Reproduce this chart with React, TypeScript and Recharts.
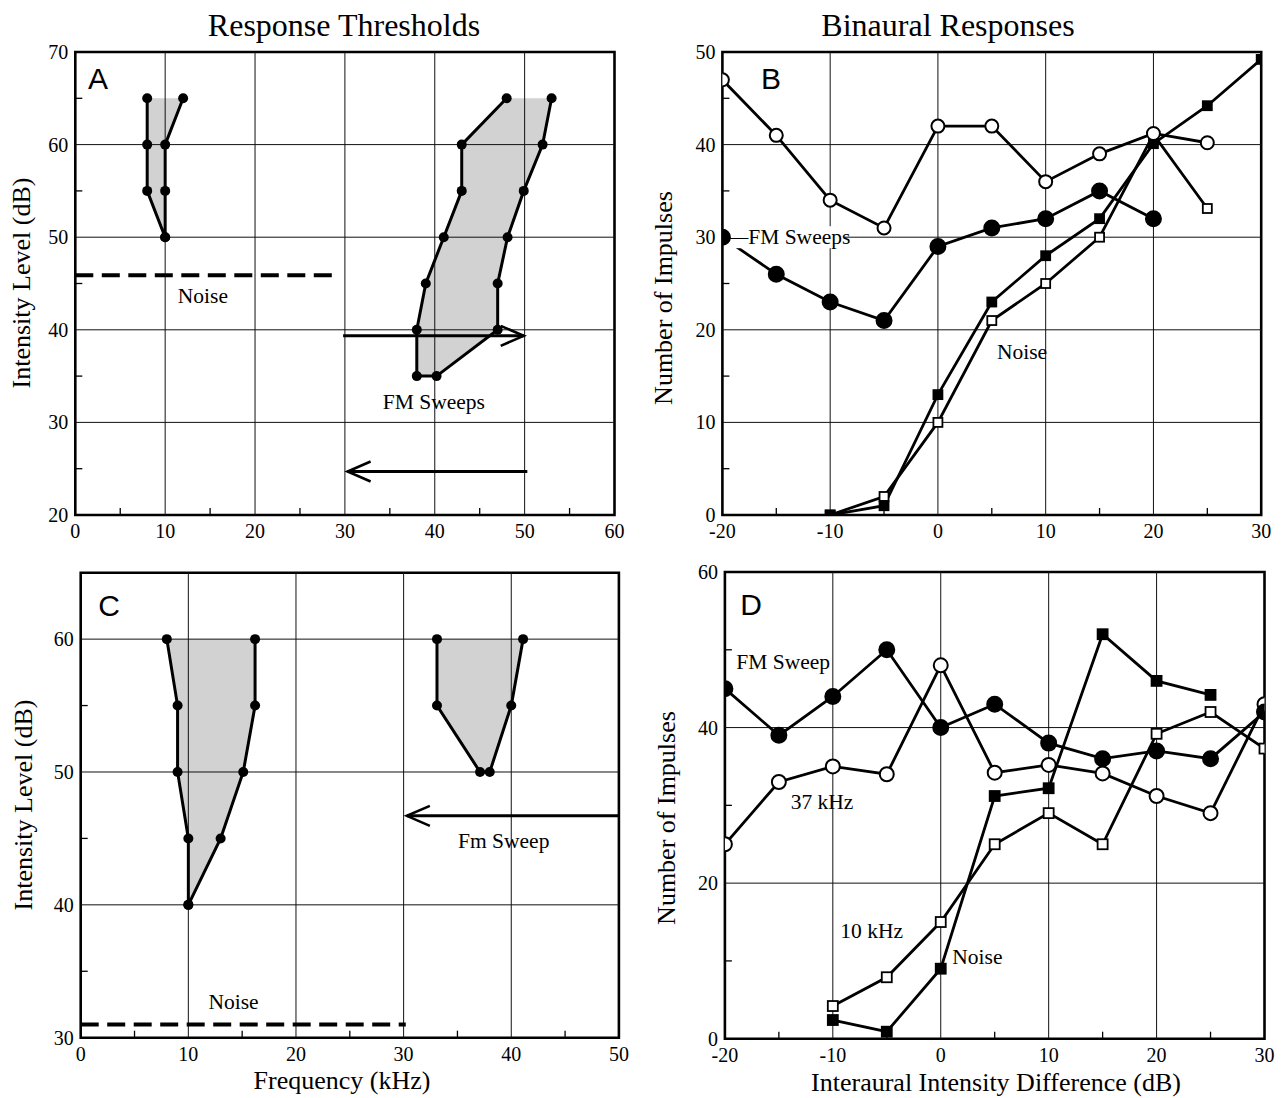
import React from 'react';
import {
  ComposedChart,
  Line,
  Area,
  XAxis,
  YAxis,
  ReferenceLine,
  ReferenceArea,
  ReferenceDot,
} from 'recharts';

const SERIF = '"Liberation Serif", "Times New Roman", Times, serif';
const SANS = '"Liberation Sans", Arial, Helvetica, sans-serif';

// ---------------- Panel A : response thresholds ----------------
const aLevels1 = [50, 55, 60, 65];
const aLow1 = [10, 8, 8, 8];
const aHigh1 = [10, 10, 10, 12];
const aLevels2 = [35, 40, 45, 50, 55, 60, 65];
const aLow2 = [38, 38, 39, 41, 43, 43, 48];
const aHigh2 = [40.2, 47, 47, 48.1, 49.9, 52, 53];
const aNoiseLevel = 45.9;
const aNoiseSpan = [0, 28.7];
const aSweepLevels = [39.35, 24.7];
const aSweepStart = [29.8, 50.3];
const aSweepEnd = [49.9, 30.3];
const aFreqTicks = [0, 10, 20, 30, 40, 50, 60];
const aLevelTicks = [20, 30, 40, 50, 60, 70];

// ---------------- Panel B : binaural responses ----------------
const bIid = [-20, -15, -10, -5, 0, 5, 10, 15, 20, 25, 30];
const bFmOpen = [47, 41, 34, 31, 42, 42, 36, 39, 41.2, 40.2, null];
const bFmFilled = [30, 26, 23, 21, 29, 31, 32, 35, 32, null, null];
const bNoiseFilled = [null, null, 0, 1, 13, 23, 28, 32, 40.1, 44.2, 49.2];
const bNoiseOpen = [null, null, 0, 2, 10, 21, 25, 30, 41.1, 33.1, null];
const bIidTicks = [-20, -10, 0, 10, 20, 30];
const bCountTicks = [0, 10, 20, 30, 40, 50];

// ---------------- Panel C : response thresholds ----------------
const cLevels1 = [40, 45, 50, 55, 60];
const cLow1 = [10, 10, 9, 9, 8];
const cHigh1 = [10, 13, 15.1, 16.2, 16.2];
const cLevels2 = [50, 55, 60];
const cLow2 = [37.1, 33.1, 33.1];
const cHigh2 = [38, 40, 41.1];
const cNoiseLevel = 31;
const cNoiseSpan = [0, 30.2];
const cSweepLevels = [46.7];
const cSweepStart = [50];
const cSweepEnd = [30.3];
const cFreqTicks = [0, 10, 20, 30, 40, 50];
const cLevelTicks = [30, 40, 50, 60];

// ---------------- Panel D : binaural responses ----------------
const dIid = [-20, -15, -10, -5, 0, 5, 10, 15, 20, 25, 30];
const dFmFilled = [45, 39, 44, 50, 40, 43, 38, 36, 37, 36, 42];
const d37Open = [25, 33, 35, 34, 48, 34.2, 35.2, 34.1, 31.2, 29, 43];
const dNoiseFilled = [null, null, 2.4, 0.9, 9, 31.2, 32.2, 52, 46, 44.2, null];
const d10Open = [null, null, 4.2, 7.9, 15, 25, 29, 25, 39.2, 42, 37.3];
const dIidTicks = [-20, -10, 0, 10, 20, 30];
const dCountTicks = [0, 20, 40, 60];

// ---------------- helpers ----------------
const steps = (a: number, b: number, s: number) => {
  const r: number[] = [];
  for (let v = a; v <= b + 1e-9; v += s) r.push(Math.round(v * 100) / 100);
  return r;
};

const bandData = (levels: number[], low: number[], high: number[]) =>
  levels.map((l, i) => ({ lvl: l, band: [low[i], high[i]] }));

const outlineData = (levels: number[], low: number[], high: number[]) => {
  const left = levels.map((l, i) => ({ lvl: l, f: low[i] })).reverse();
  const right = levels.map((l, i) => ({ lvl: l, f: high[i] }));
  return [...left, ...right];
};

const TICK_FONT = 20;

const bottomTick = (labels: number[]) => (p: any) => {
  const v = p.payload.value;
  const major = labels.includes(v);
  return (
    <g key={`xt-${v}`}>
      {!major && (
        <line x1={p.x} y1={p.y} x2={p.x} y2={p.y - 7} stroke="#000" strokeWidth={1.3} />
      )}
      {major && (
        <text
          x={p.x}
          y={p.y + 16}
          textAnchor="middle"
          dominantBaseline="central"
          fontFamily={SERIF}
          style={{ fontFamily: SERIF }}
          fontSize={TICK_FONT}
          fill="#000"
        >
          {v}
        </text>
      )}
    </g>
  );
};

const leftTick = (labels: number[]) => (p: any) => {
  const v = p.payload.value;
  const major = labels.includes(v);
  return (
    <g key={`yt-${v}`}>
      {!major && (
        <line x1={p.x} y1={p.y} x2={p.x + 7} y2={p.y} stroke="#000" strokeWidth={1.3} />
      )}
      {major && (
        <text
          x={p.x - 7}
          y={p.y}
          textAnchor="end"
          dominantBaseline="central"
          fontFamily={SERIF}
          style={{ fontFamily: SERIF }}
          fontSize={TICK_FONT}
          fill="#000"
        >
          {v}
        </text>
      )}
    </g>
  );
};

const circleDot = (r: number, filled: boolean) => (p: any) => {
  if (p.cx == null || p.cy == null || p.value == null)
    return <g key={`c-${p.index}`} />;
  return (
    <circle
      key={`c-${p.index}`}
      cx={p.cx}
      cy={p.cy}
      r={r}
      fill={filled ? '#000' : '#fff'}
      stroke="#000"
      strokeWidth={2}
    />
  );
};

const squareDot = (s: number, filled: boolean) => (p: any) => {
  if (p.cx == null || p.cy == null || p.value == null)
    return <g key={`s-${p.index}`} />;
  return (
    <rect
      key={`s-${p.index}`}
      x={p.cx - s / 2}
      y={p.cy - s / 2}
      width={s}
      height={s}
      fill={filled ? '#000' : '#fff'}
      stroke="#000"
      strokeWidth={1.8}
    />
  );
};

const arrowDot = (dir: number) => (p: any) => {
  if (p.index !== 1) return <g key={`a-${p.index}`} />;
  const { cx, cy } = p;
  return (
    <path
      key={`a-${p.index}`}
      d={`M${cx - dir * 23},${cy - 10} L${cx},${cy} L${cx - dir * 23},${cy + 10}`}
      fill="none"
      stroke="#000"
      strokeWidth={2.6}
    />
  );
};

const note =
  (text: string, anchor: 'start' | 'middle' = 'middle', bgWidth = 0) =>
  (p: any) => (
    <g>
      {bgWidth > 0 && (
        <rect x={p.cx} y={p.cy - 11} width={bgWidth} height={22} fill="#fff" />
      )}
      <text
        x={p.cx}
        y={p.cy}
        textAnchor={anchor}
        dominantBaseline="central"
        fontFamily={SERIF}
        style={{ fontFamily: SERIF }}
        fontSize={21.5}
        fill="#000"
      >
        {text}
      </text>
    </g>
  );

const GRID = { stroke: '#111', strokeWidth: 1 };
const FILL = '#d2d2d2';

// --------------- threshold panel (A and C) ---------------
function ThresholdChart(props: {
  width: number;
  height: number;
  margin: { top: number; right: number; bottom: number; left: number };
  xDomain: [number, number];
  yDomain: [number, number];
  xLabels: number[];
  yLabels: number[];
  regions: { levels: number[]; low: number[]; high: number[] }[];
  noiseLevel: number;
  noiseSpan: number[];
  sweepLevels: number[];
  sweepStart: number[];
  sweepEnd: number[];
  notes: { x: number; y: number; text: string }[];
}) {
  const { xDomain, yDomain } = props;
  return (
    <ComposedChart
      layout="vertical"
      width={props.width}
      height={props.height}
      margin={props.margin}
    >
      <XAxis
        type="number"
        domain={xDomain}
        ticks={steps(xDomain[0], xDomain[1], 5)}
        interval={0}
        tickSize={0}
        tickMargin={0}
        tickLine={false}
        axisLine={false}
        height={30}
        tick={bottomTick(props.xLabels)}
        allowDataOverflow
      />
      <YAxis
        type="number"
        dataKey="lvl"
        domain={yDomain}
        reversed
        ticks={steps(yDomain[0], yDomain[1], 5)}
        interval={0}
        tickSize={0}
        tickMargin={0}
        tickLine={false}
        axisLine={false}
        width={60}
        tick={leftTick(props.yLabels)}
        allowDataOverflow
      />
      {props.xLabels
        .filter((v) => v > xDomain[0] && v < xDomain[1])
        .map((v) => (
          <ReferenceLine key={`gx-${v}`} x={v} {...GRID} />
        ))}
      {props.yLabels
        .filter((v) => v > yDomain[0] && v < yDomain[1])
        .map((v) => (
          <ReferenceLine key={`gy-${v}`} y={v} {...GRID} />
        ))}
      {props.regions.map((r, i) => (
        <Area
          key={`band-${i}`}
          data={bandData(r.levels, r.low, r.high)}
          dataKey="band"
          type="linear"
          fill={FILL}
          fillOpacity={1}
          stroke="none"
          dot={false}
          activeDot={false}
          isAnimationActive={false}
        />
      ))}
      {props.regions.map((r, i) => (
        <Line
          key={`out-${i}`}
          data={outlineData(r.levels, r.low, r.high)}
          dataKey="f"
          type="linear"
          stroke="#000"
          strokeWidth={3}
          dot={{ r: 5, fill: '#000', stroke: '#000', strokeWidth: 0 }}
          activeDot={false}
          isAnimationActive={false}
        />
      ))}
      <Line
        data={[
          { lvl: props.noiseLevel, f: props.noiseSpan[0] },
          { lvl: props.noiseLevel, f: props.noiseSpan[1] },
        ]}
        dataKey="f"
        type="linear"
        stroke="#000"
        strokeWidth={4}
        strokeDasharray="18 8.5"
        dot={false}
        activeDot={false}
        isAnimationActive={false}
      />
      {props.sweepLevels.map((lvl, i) => (
        <Line
          key={`sweep-${i}`}
          data={[
            { lvl, f: props.sweepStart[i] },
            { lvl, f: props.sweepEnd[i] },
          ]}
          dataKey="f"
          type="linear"
          stroke="#000"
          strokeWidth={3}
          dot={arrowDot(Math.sign(props.sweepEnd[i] - props.sweepStart[i]))}
          activeDot={false}
          isAnimationActive={false}
        />
      ))}
      <ReferenceArea
        x1={xDomain[0]}
        x2={xDomain[1]}
        y1={yDomain[0]}
        y2={yDomain[1]}
        fill="none"
        stroke="#000"
        strokeWidth={2.6}
        ifOverflow="visible"
      />
      {props.notes.map((n, i) => (
        <ReferenceDot
          key={`note-${i}`}
          x={n.x}
          y={n.y}
          r={0}
          ifOverflow="visible"
          shape={note(n.text)}
        />
      ))}
    </ComposedChart>
  );
}

const TEXT_BASE: React.CSSProperties = {
  position: 'absolute',
  whiteSpace: 'nowrap',
  fontFamily: SERIF,
  color: '#000',
  lineHeight: 1,
};

function Txt(props: {
  x: number;
  y: number;
  size: number;
  rotate?: boolean;
  sans?: boolean;
  children: React.ReactNode;
}) {
  return (
    <div
      style={{
        ...TEXT_BASE,
        left: props.x,
        top: props.y,
        fontSize: props.size,
        fontFamily: props.sans ? SANS : SERIF,
        transform: `translate(-50%, -50%)${props.rotate ? ' rotate(-90deg)' : ''}`,
      }}
    >
      {props.children}
    </div>
  );
}

export default function App() {
  const bRows = bIid.map((x, i) => ({
    x,
    fmOpen: bFmOpen[i],
    fmFilled: bFmFilled[i],
    noiseFilled: bNoiseFilled[i],
    noiseOpen: bNoiseOpen[i],
  }));
  const dRows = dIid.map((x, i) => ({
    x,
    fmFilled: dFmFilled[i],
    k37: d37Open[i],
    noiseFilled: dNoiseFilled[i],
    k10: d10Open[i],
  }));

  const lineProps = {
    type: 'linear' as const,
    stroke: '#000',
    strokeWidth: 2.8,
    activeDot: false,
    isAnimationActive: false,
  };

  return (
    <div
      style={{
        position: 'absolute',
        left: 0,
        top: 0,
        width: 1281,
        height: 1098,
        background: '#fff',
        overflow: 'hidden',
      }}
    >
      {/* Panel A */}
      <div style={{ position: 'absolute', left: 0, top: 0 }}>
        <ThresholdChart
          width={640}
          height={560}
          margin={{ top: 52, right: 25.5, bottom: 15, left: 15.3 }}
          xDomain={[0, 60]}
          yDomain={[20, 70]}
          xLabels={aFreqTicks}
          yLabels={aLevelTicks}
          regions={[
            { levels: aLevels1, low: aLow1, high: aHigh1 },
            { levels: aLevels2, low: aLow2, high: aHigh2 },
          ]}
          noiseLevel={aNoiseLevel}
          noiseSpan={aNoiseSpan}
          sweepLevels={aSweepLevels}
          sweepStart={aSweepStart}
          sweepEnd={aSweepEnd}
          notes={[
            { x: 14.2, y: 43.6, text: 'Noise' },
            { x: 39.9, y: 32.2, text: 'FM Sweeps' },
          ]}
        />
      </div>

      {/* Panel B */}
      <div style={{ position: 'absolute', left: 640, top: 0 }}>
        <ComposedChart
          width={641}
          height={560}
          data={bRows}
          margin={{ top: 52, right: 19.8, bottom: 15, left: 22.4 }}
        >
          <XAxis
            type="number"
            dataKey="x"
            domain={[-20, 30]}
            ticks={steps(-20, 30, 5)}
            interval={0}
            tickSize={0}
            tickMargin={0}
            tickLine={false}
            axisLine={false}
            height={30}
            tick={bottomTick(bIidTicks)}
            allowDataOverflow
          />
          <YAxis
            type="number"
            domain={[0, 50]}
            ticks={steps(0, 50, 5)}
            interval={0}
            tickSize={0}
            tickMargin={0}
            tickLine={false}
            axisLine={false}
            width={60}
            tick={leftTick(bCountTicks)}
            allowDataOverflow
          />
          {bIidTicks.slice(1, -1).map((v) => (
            <ReferenceLine key={`bgx-${v}`} x={v} {...GRID} />
          ))}
          {bCountTicks.slice(1, -1).map((v) => (
            <ReferenceLine key={`bgy-${v}`} y={v} {...GRID} />
          ))}
          <ReferenceDot
            x={-19.6}
            y={30}
            r={0}
            ifOverflow="visible"
            shape={note('\u2014FM Sweeps', 'start', 118)}
          />
          <Line dataKey="noiseOpen" {...lineProps} dot={squareDot(9, false)} />
          <Line dataKey="noiseFilled" {...lineProps} dot={squareDot(9, true)} />
          <Line dataKey="fmFilled" {...lineProps} dot={circleDot(7.5, true)} />
          <Line dataKey="fmOpen" {...lineProps} dot={circleDot(6.5, false)} />
          <ReferenceArea
            x1={-20}
            x2={30}
            y1={0}
            y2={50}
            fill="none"
            stroke="#000"
            strokeWidth={2.6}
            ifOverflow="visible"
          />
          <ReferenceDot x={7.8} y={17.6} r={0} ifOverflow="visible" shape={note('Noise')} />
        </ComposedChart>
      </div>

      {/* Panel C */}
      <div style={{ position: 'absolute', left: 0, top: 545 }}>
        <ThresholdChart
          width={640}
          height={553}
          margin={{ top: 27.7, right: 21.1, bottom: 30.3, left: 20.7 }}
          xDomain={[0, 50]}
          yDomain={[30, 65]}
          xLabels={cFreqTicks}
          yLabels={cLevelTicks}
          regions={[
            { levels: cLevels1, low: cLow1, high: cHigh1 },
            { levels: cLevels2, low: cLow2, high: cHigh2 },
          ]}
          noiseLevel={cNoiseLevel}
          noiseSpan={cNoiseSpan}
          sweepLevels={cSweepLevels}
          sweepStart={cSweepStart}
          sweepEnd={cSweepEnd}
          notes={[
            { x: 14.2, y: 32.7, text: 'Noise' },
            { x: 39.3, y: 44.8, text: 'Fm Sweep' },
          ]}
        />
      </div>

      {/* Panel D */}
      <div style={{ position: 'absolute', left: 640, top: 545 }}>
        <ComposedChart
          width={641}
          height={553}
          data={dRows}
          margin={{ top: 27, right: 16.5, bottom: 29.3, left: 24.9 }}
        >
          <XAxis
            type="number"
            dataKey="x"
            domain={[-20, 30]}
            ticks={steps(-20, 30, 5)}
            interval={0}
            tickSize={0}
            tickMargin={0}
            tickLine={false}
            axisLine={false}
            height={30}
            tick={bottomTick(dIidTicks)}
            allowDataOverflow
          />
          <YAxis
            type="number"
            domain={[0, 60]}
            ticks={steps(0, 60, 10)}
            interval={0}
            tickSize={0}
            tickMargin={0}
            tickLine={false}
            axisLine={false}
            width={60}
            tick={leftTick(dCountTicks)}
            allowDataOverflow
          />
          {dIidTicks.slice(1, -1).map((v) => (
            <ReferenceLine key={`dgx-${v}`} x={v} {...GRID} />
          ))}
          {dCountTicks.slice(1, -1).map((v) => (
            <ReferenceLine key={`dgy-${v}`} y={v} {...GRID} />
          ))}
          <Line dataKey="k10" {...lineProps} dot={squareDot(10, false)} />
          <Line dataKey="noiseFilled" {...lineProps} dot={squareDot(10, true)} />
          <Line dataKey="k37" {...lineProps} dot={circleDot(7, false)} />
          <Line dataKey="fmFilled" {...lineProps} dot={circleDot(7.5, true)} />
          <ReferenceArea
            x1={-20}
            x2={30}
            y1={0}
            y2={60}
            fill="none"
            stroke="#000"
            strokeWidth={2.6}
            ifOverflow="visible"
          />
          <ReferenceDot x={-14.6} y={48.4} r={0} ifOverflow="visible" shape={note('FM Sweep')} />
          <ReferenceDot x={-11.0} y={30.4} r={0} ifOverflow="visible" shape={note('37 kHz')} />
          <ReferenceDot x={-6.4} y={13.8} r={0} ifOverflow="visible" shape={note('10 kHz')} />
          <ReferenceDot x={3.4} y={10.5} r={0} ifOverflow="visible" shape={note('Noise')} />
        </ComposedChart>
      </div>

      {/* Titles and axis titles */}
      <Txt x={344} y={25} size={32}>Response Thresholds</Txt>
      <Txt x={948} y={25} size={32}>Binaural Responses</Txt>
      <Txt x={22} y={283} size={26} rotate>Intensity Level (dB)</Txt>
      <Txt x={24} y={805} size={26} rotate>Intensity Level (dB)</Txt>
      <Txt x={664} y={298} size={26} rotate>Number of Impulses</Txt>
      <Txt x={667} y={818} size={26} rotate>Number of Impulses</Txt>
      <Txt x={342} y={1081} size={26}>Frequency (kHz)</Txt>
      <Txt x={996} y={1083} size={26}>Interaural Intensity Difference (dB)</Txt>

      {/* Panel letters */}
      <Txt x={98} y={79} size={30} sans>A</Txt>
      <Txt x={771} y={79} size={30} sans>B</Txt>
      <Txt x={109} y={606} size={30} sans>C</Txt>
      <Txt x={751} y={605} size={30} sans>D</Txt>
    </div>
  );
}
